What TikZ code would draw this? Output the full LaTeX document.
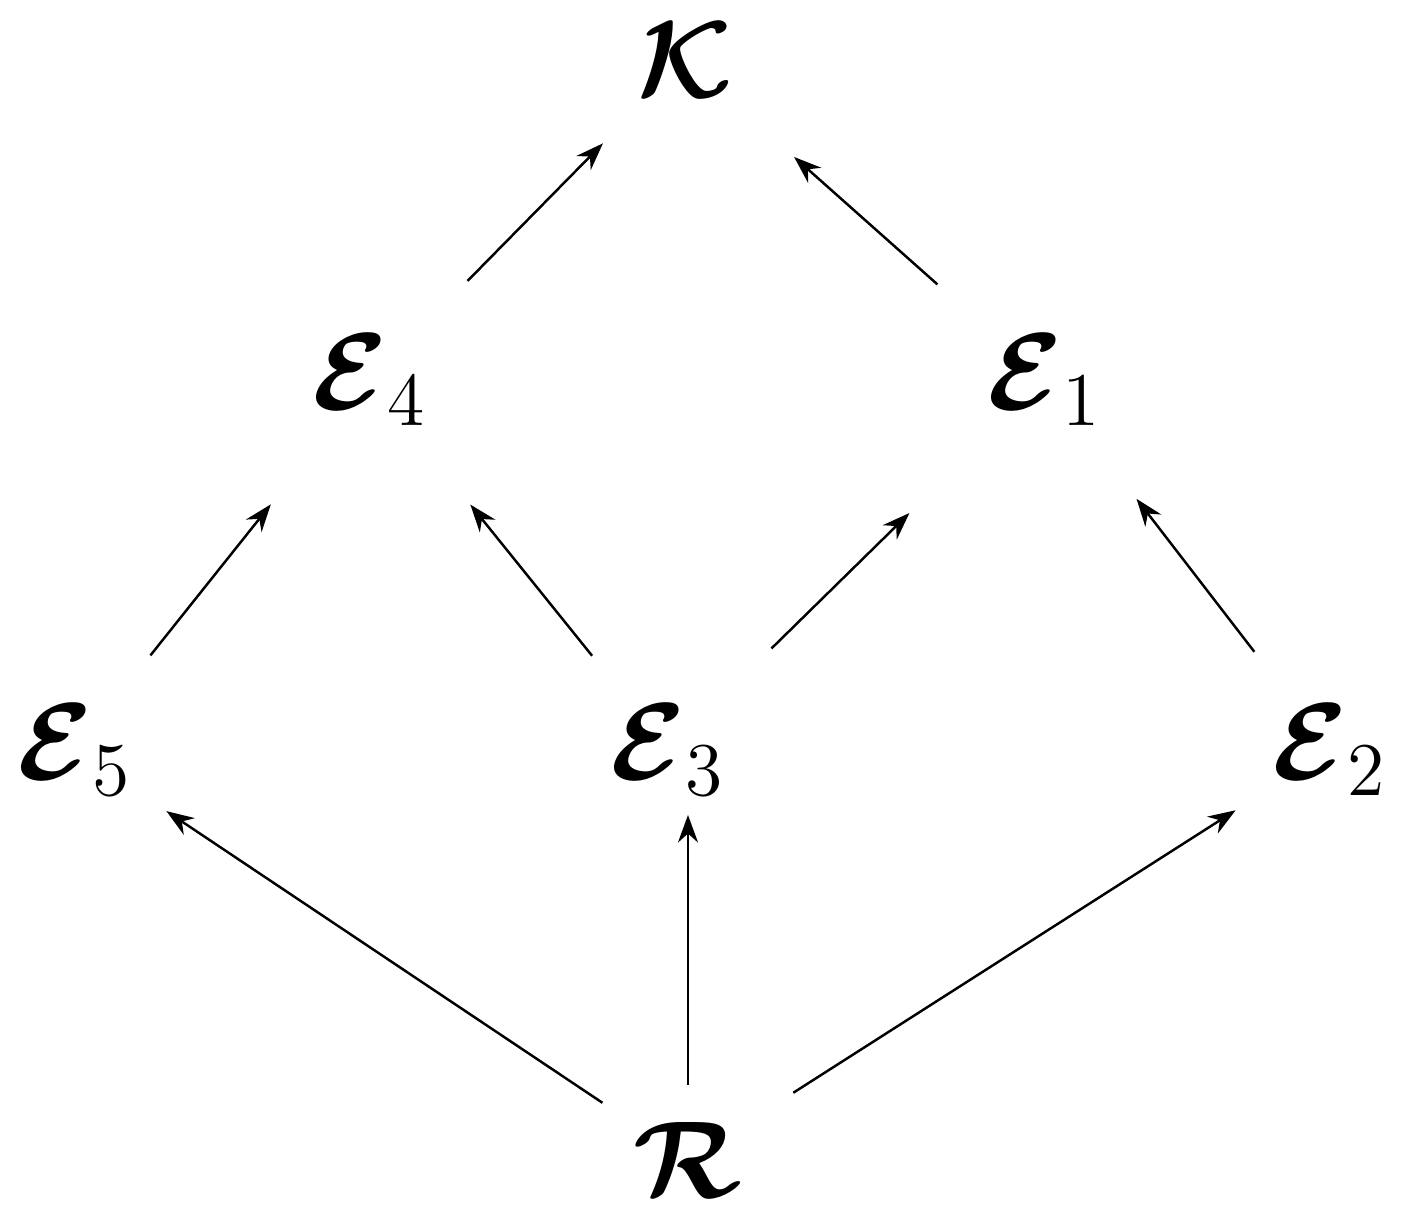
\documentclass[tikz,border=0pt]{standalone}
\usepackage{bm}
\usetikzlibrary{arrows.meta}
\begin{document}
\begin{tikzpicture}[x=0.02cm,y=-0.02cm,
  lbl/.style={font=\huge, scale=3, inner sep=0pt},
  arr/.style={-{Stealth[length=0.55cm,width=0.4cm]}, line width=1.4pt}]
\useasboundingbox (0,0) rectangle (1404,1224);
\node[lbl] (k) at (685,60) {$\bm{\mathcal{K}}$};
\node[lbl] (e4) at (370,380) {$\bm{\mathcal{E}}_4$};
\node[lbl] (e1) at (1045,380) {$\bm{\mathcal{E}}_1$};
\node[lbl] (e5) at (75,750) {$\bm{\mathcal{E}}_5$};
\node[lbl] (e3) at (668,750) {$\bm{\mathcal{E}}_3$};
\node[lbl] (e2) at (1330,750) {$\bm{\mathcal{E}}_2$};
\node[lbl] (r) at (688,1160) {$\bm{\mathcal{R}}$};
\draw[arr, shorten <=2.78cm, shorten >=2.34cm] (e4.center) -- (k.center);
\draw[arr, shorten <=2.88cm, shorten >=2.92cm] (e1.center) -- (k.center);
\draw[arr, shorten <=2.42cm, shorten >=3.18cm] (e5.center) -- (e4.center);
\draw[arr, shorten <=2.42cm, shorten >=3.2cm] (e3.center) -- (e4.center);
\draw[arr, shorten <=2.9cm, shorten >=3.8cm] (e3.center) -- (e1.center);
\draw[arr, shorten <=2.48cm, shorten >=3.0cm] (e2.center) -- (e1.center);
\draw[arr, shorten <=2.06cm, shorten >=2.2cm] (r.center) -- (e5.center);
\draw[arr, shorten <=1.5cm, shorten >=1.3cm] (r.center) -- (r.center |- e3.center);
\draw[arr, shorten <=2.5cm, shorten >=2.24cm] (r.center) -- (e2.center);
\end{tikzpicture}
\end{document}
